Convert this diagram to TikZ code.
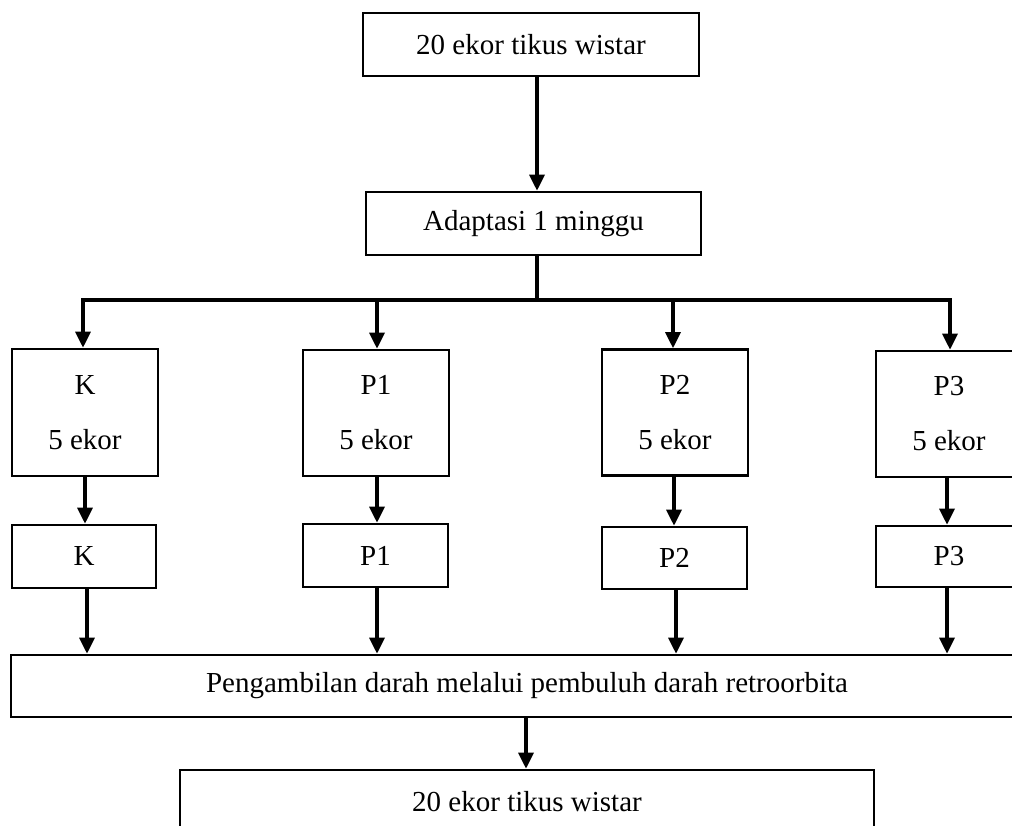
\documentclass[tikz,border=0pt]{standalone}
\usepackage{fontspec}
\setmainfont{Liberation Serif}
\usetikzlibrary{arrows.meta}
\tikzset{
  box/.style={draw, line width=2.6pt, inner sep=0pt, align=center,
    font=\fontsize{29}{55}\selectfont},
  conn/.style={line width=3.3pt},
  arr/.style={line width=3.3pt, -{Triangle[length=16pt,width=15pt]}},
}
\begin{document}
\begin{tikzpicture}[x=1pt,y=-1pt]
\useasboundingbox (0,0) rectangle (1012,826);
\clip (0,0) rectangle (1012,826);
\fill[white] (0,0) rectangle (1012,826);
% top
\node[box, minimum width=336, minimum height=63] (top) at (531,44.5) {20 ekor tikus wistar};
\node[box, minimum width=335, minimum height=63] (adapt) at (533.5,223.5) {Adaptasi 1 minggu};
% row 1
\node[box, minimum width=146, minimum height=127] (K1) at (85,412.5) {K\\5 ekor};
\node[box, minimum width=146, minimum height=126] (P1a) at (376,413) {P1\\5 ekor};
\node[box, minimum width=146, minimum height=126] (P2a) at (675,412.5) {P2\\5 ekor};
\node[box, minimum width=146, minimum height=126] (P3a) at (949,414) {P3\\5 ekor};
% row 2
\node[box, minimum width=144, minimum height=63] (K2) at (84,556.5) {K};
\node[box, minimum width=145, minimum height=63] (P1b) at (375.5,555.5) {P1};
\node[box, minimum width=145, minimum height=62] (P2b) at (674.5,558) {P2};
\node[box, minimum width=146, minimum height=61] (P3b) at (949,556.5) {P3};
% bottom
\node[box, minimum width=1032, minimum height=62] (peng) at (527,686) {Pengambilan darah melalui pembuluh darah retroorbita};
\node[box, minimum width=694, minimum height=63] (fin) at (527,801.5) {20 ekor tikus wistar};
% connectors
\draw[arr] ([xshift=6]top.south) -- ([xshift=3.5]adapt.north);
\coordinate (bus) at (537,300);
\coordinate (bL) at (83,300);
\coordinate (bP1) at (377,300);
\coordinate (bP2) at (673,300);
\coordinate (bR) at (950,300);
\draw[conn] ([xshift=3.5]adapt.south) -- (bus);
\draw[conn, line cap=rect] (bL) -- (bR);
\draw[arr] (bL) -- (bL |- K1.north);
\draw[arr] (bP1) -- (bP1 |- P1a.north);
\draw[arr] (bP2) -- (bP2 |- P2a.north);
\draw[arr] (bR) -- (bR |- P3a.north);
\draw[arr] (K1.south) -- (K1.south |- K2.north);
\draw[arr] ([xshift=1]P1a.south) -- ([xshift=1]P1a.south |- P1b.north);
\draw[arr] ([xshift=-1]P2a.south) -- ([xshift=-1]P2a.south |- P2b.north);
\draw[arr] ([xshift=-2]P3a.south) -- ([xshift=-2]P3a.south |- P3b.north);
\draw[arr] ([xshift=3]K2.south) -- ([xshift=3]K2.south |- peng.north);
\draw[arr] ([xshift=1.5]P1b.south) -- ([xshift=1.5]P1b.south |- peng.north);
\draw[arr] ([xshift=1.5]P2b.south) -- ([xshift=1.5]P2b.south |- peng.north);
\draw[arr] ([xshift=-2]P3b.south) -- ([xshift=-2]P3b.south |- peng.north);
\draw[arr] ([xshift=-1]peng.south) -- ([xshift=-1]peng.south |- fin.north);
\end{tikzpicture}
\end{document}
